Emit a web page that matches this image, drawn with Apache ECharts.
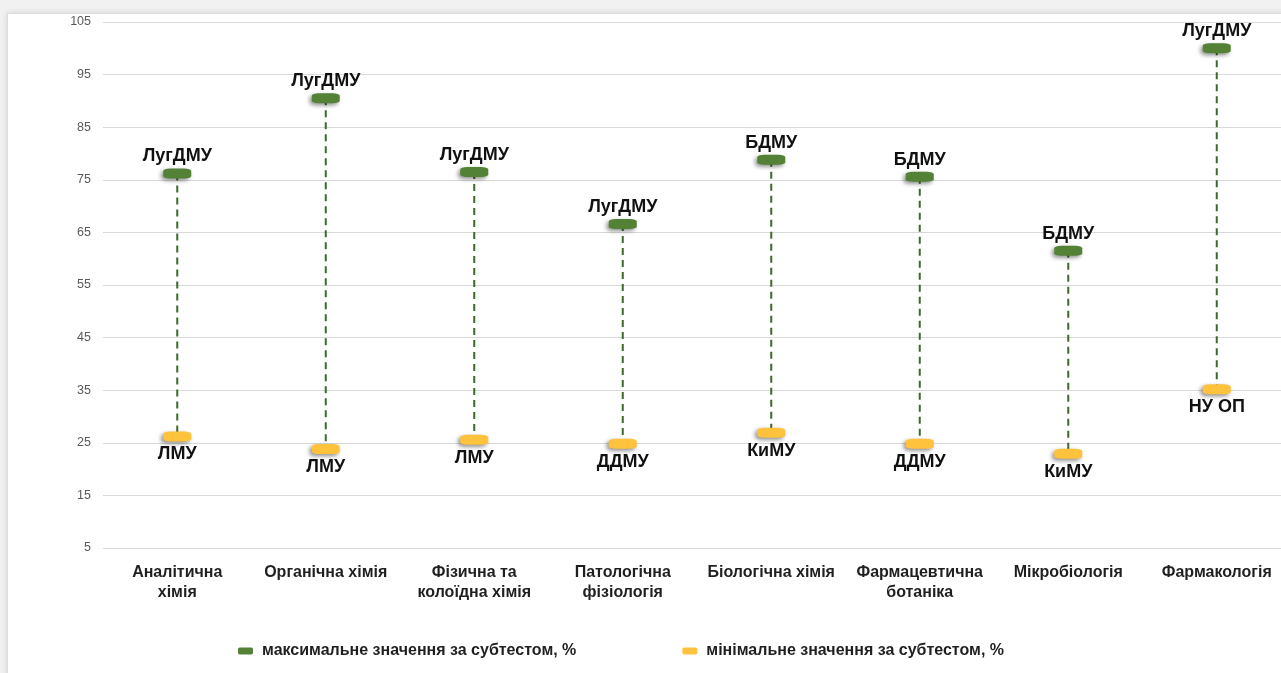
<!DOCTYPE html>
<html>
<head>
<meta charset="utf-8">
<script src="https://cdn.jsdelivr.net/npm/echarts@6/dist/echarts.min.js"></script>
<style>
    html, body { margin: 0; padding: 0; background: #f1f1f1; overflow: hidden; }
    .frame {
        position: absolute; left: 7px; top: 13px; width: 1300px; height: 700px;
        background: #fff; border: 1px solid #dcdcdc;
        box-shadow: 0 0 6px rgba(0, 0, 0, 0.12);
    }
    /* трохи ширше за вікно: останній стовпчик у оригіналі обрізаний справа */
    #chart { position: absolute; left: 0; top: 0; width: 1291px; height: 673px; }
</style>
</head>
<body>
<div class="frame"></div>
<div id="chart"></div>
<script>
// предмети (субтести)
const categories = [
    'Аналітична\nхімія',
    'Органічна хімія',
    'Фізична та\nколоїдна хімія',
    'Патологічна\nфізіологія',
    'Біологічна хімія',
    'Фармацевтична\nботаніка',
    'Мікробіологія',
    'Фармакологія',
]
// максимальні значення, %
const maxValues = [76.2, 90.5, 76.5, 66.6, 78.8, 75.6, 61.5, 100]
const maxNames = ['ЛугДМУ', 'ЛугДМУ', 'ЛугДМУ', 'ЛугДМУ', 'БДМУ', 'БДМУ', 'БДМУ', 'ЛугДМУ']
// мінімальні значення, %
const minValues = [26.2, 23.8, 25.6, 24.8, 26.9, 24.8, 22.9, 35.2]
const minNames = ['ЛМУ', 'ЛМУ', 'ЛМУ', 'ДДМУ', 'КиМУ', 'ДДМУ', 'КиМУ', 'НУ ОП']
const yTicks = [5, 15, 25, 35, 45, 55, 65, 75, 85, 95, 105]

const maxLabel = 'максимальне значення за субтестом, %'
const minLabel = 'мінімальне значення за субтестом, %'

const font = '"Liberation Sans", Arial, sans-serif'
const green = '#538135'
const yellow = '#ffc23d'

const chart = echarts.init(document.getElementById('chart'))

const markerShadow = {
    shadowColor: 'rgba(0, 0, 0, 0.45)',
    shadowBlur: 4,
    shadowOffsetX: -2,
    shadowOffsetY: 2,
}

const option = {
    animation: false,
    textStyle: { fontFamily: font },
    grid: { left: 103, right: 0, top: 22, bottom: 125 },
    xAxis: {
        type: 'category',
        data: categories,
        axisLine: { show: false },
        axisTick: { show: false },
        axisLabel: {
            interval: 0,
            margin: 15,
            fontSize: 16,
            fontWeight: 'bold',
            lineHeight: 20,
            color: '#1f1f1f',
            fontFamily: font,
        },
    },
    yAxis: {
        type: 'value',
        min: yTicks[0],
        max: yTicks[yTicks.length - 1],
        interval: 10,
        axisLine: { show: false },
        axisTick: { show: false },
        axisLabel: { fontSize: 12.5, color: '#595959', margin: 12, fontFamily: font },
        splitLine: { lineStyle: { color: '#d9d9d9', width: 1 } },
    },
    legend: {
        left: 233,
        top: 638,
        itemWidth: 15,
        itemHeight: 7,
        itemGap: 106,
        icon: 'roundRect',
        itemStyle: { shadowBlur: 0, shadowOffsetX: 0, shadowOffsetY: 0 },
        textStyle: {
            fontSize: 16,
            fontWeight: 'bold',
            color: '#1f1f1f',
            fontFamily: font,
            padding: [0, 0, 0, 4],
        },
        data: [maxLabel, minLabel],
    },
    series: [
        {
            // пунктирна лінія між мінімумом і максимумом
            type: 'custom',
            z: 1,
            silent: true,
            data: categories.map((c, i) => [i, minValues[i], maxValues[i]]),
            encode: { x: 0, y: [1, 2] },
            renderItem(params, api) {
                const lo = api.coord([api.value(0), api.value(1)])
                const hi = api.coord([api.value(0), api.value(2)])
                return {
                    type: 'line',
                    shape: { x1: hi[0], y1: hi[1], x2: lo[0], y2: lo[1] },
                    style: { stroke: '#3b6a2a', lineWidth: 2, lineDash: [7, 5] },
                }
            },
        },
        {
            name: maxLabel,
            type: 'scatter',
            z: 3,
            symbol: 'roundRect',
            symbolSize: [28, 10],
            data: maxValues,
            itemStyle: Object.assign({ color: green, opacity: 1 }, markerShadow),
            label: {
                show: true,
                position: 'top',
                distance: 3,
                fontSize: 18,
                fontWeight: 'bold',
                color: '#111',
                fontFamily: font,
                formatter: (p) => maxNames[p.dataIndex],
            },
        },
        {
            name: minLabel,
            type: 'scatter',
            z: 3,
            symbol: 'roundRect',
            symbolSize: [28, 10],
            data: minValues,
            itemStyle: Object.assign({ color: yellow, opacity: 1 }, markerShadow),
            label: {
                show: true,
                position: 'bottom',
                distance: 4,
                fontSize: 18,
                fontWeight: 'bold',
                color: '#111',
                fontFamily: font,
                formatter: (p) => minNames[p.dataIndex],
            },
        },
    ],
}

chart.setOption(option)
</script>
</body>
</html>
